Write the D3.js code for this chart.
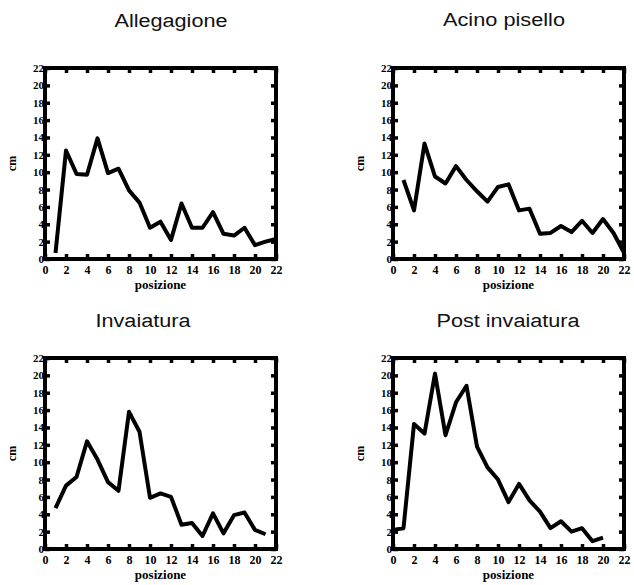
<!DOCTYPE html>
<html>
<head>
<meta charset="utf-8">
<script src="https://cdn.jsdelivr.net/npm/d3@7"></script>
<style>
  body { margin: 0; background: #fff; }
  .tick text { font-family: "Liberation Serif", serif; font-weight: bold; fill: #000; }
</style>
</head>
<body>
<div id="wrapper"></div>
<script>
// dati
const titles = ["Allegagione", "Acino pisello", "Invaiatura", "Post invaiatura"]
const xTicks = [0, 2, 4, 6, 8, 10, 12, 14, 16, 18, 20, 22]
const yTicks = [0, 2, 4, 6, 8, 10, 12, 14, 16, 18, 20, 22]

const posAllegagione = [1, 2, 3, 4, 5, 6, 7, 8, 9, 10, 11, 12, 13, 14, 15, 16, 17, 18, 19, 20, 21, 22]
const cmAllegagione = [0.7, 12.5, 9.8, 9.7, 13.9, 9.9, 10.4, 7.9, 6.5, 3.6, 4.3, 2.2, 6.4, 3.6, 3.6, 5.4, 2.9, 2.7, 3.6, 1.6, 2.0, 2.3]

const posAcino = [1, 2, 3, 4, 5, 6, 7, 8, 9, 10, 11, 12, 13, 14, 15, 16, 17, 18, 19, 20, 21, 22]
const cmAcino = [9.1, 5.6, 13.3, 9.5, 8.7, 10.7, 9.1, 7.8, 6.6, 8.3, 8.6, 5.6, 5.8, 2.9, 3.0, 3.8, 3.1, 4.4, 3.0, 4.6, 3.0, 0.7]

const posInvaiatura = [1, 2, 3, 4, 5, 6, 7, 8, 9, 10, 11, 12, 13, 14, 15, 16, 17, 18, 19, 20, 21]
const cmInvaiatura = [4.7, 7.3, 8.3, 12.4, 10.3, 7.7, 6.7, 15.8, 13.5, 5.9, 6.4, 6.0, 2.8, 3.0, 1.5, 4.1, 1.8, 3.9, 4.2, 2.2, 1.7]

const posPost = [0, 1, 2, 3, 4, 5, 6, 7, 8, 9, 10, 11, 12, 13, 14, 15, 16, 17, 18, 19, 20]
const cmPost = [2.2, 2.4, 14.4, 13.3, 20.2, 13.1, 16.9, 18.8, 11.8, 9.4, 8.0, 5.4, 7.5, 5.6, 4.3, 2.4, 3.2, 2.0, 2.4, 0.9, 1.3]

const series = [
    { x: posAllegagione, y: cmAllegagione },
    { x: posAcino, y: cmAcino },
    { x: posInvaiatura, y: cmInvaiatura },
    { x: posPost, y: cmPost },
]

// layout
let dimensions = {
    width: 634,
    height: 585,
    plotWidth: 231,
    plotHeight: 191,
}
const origins = [[45, 68], [393, 68], [45, 358], [393, 358]]
const titlePos = [[171, 27, 113], [504, 26, 122], [143, 327, 95], [508, 327, 143]]

const wrapper = d3.select("#wrapper")
    .append("svg")
    .attr("width", dimensions.width)
    .attr("height", dimensions.height)

const x = d3.scaleLinear().domain([0, 22]).range([0, dimensions.plotWidth])
const y = d3.scaleLinear().domain([0, 22]).range([dimensions.plotHeight, 0])

const line = d3.line()
    .x(d => x(d[0]))
    .y(d => y(d[1]))

series.forEach((s, i) => {
    const g = wrapper.append("g")
        .attr("transform", `translate(${origins[i][0]}, ${origins[i][1]})`)

    // titolo
    wrapper.append("text")
        .attr("x", titlePos[i][0])
        .attr("y", titlePos[i][1])
        .attr("text-anchor", "middle")
        .attr("font-family", "Liberation Sans, Arial, sans-serif")
        .attr("font-size", "18px")
        .attr("textLength", titlePos[i][2])
        .attr("lengthAdjust", "spacingAndGlyphs")
        .attr("fill", "#111")
        .text(titles[i])

    // cornice
    g.append("rect")
        .attr("width", dimensions.plotWidth)
        .attr("height", dimensions.plotHeight)
        .attr("fill", "none")
        .attr("stroke", "#000")
        .attr("stroke-width", 4)

    // linea dati
    g.append("path")
        .datum(s.x.map((v, j) => [v, s.y[j]]))
        .attr("d", line)
        .attr("fill", "none")
        .attr("stroke", "#000")
        .attr("stroke-width", 4)
        .attr("stroke-linejoin", "round")

    // assi: tacche interne su tutti i lati
    const top = g.append("g")
        .call(d3.axisTop(x).tickValues(xTicks).tickSize(-5).tickFormat(""))
    const right = g.append("g")
        .attr("transform", `translate(${dimensions.plotWidth}, 0)`)
        .call(d3.axisRight(y).tickValues(yTicks).tickSize(-5).tickFormat(""))
    const bottom = g.append("g")
        .attr("transform", `translate(0, ${dimensions.plotHeight})`)
        .call(d3.axisBottom(x).tickValues(xTicks).tickSize(-5).tickPadding(6).tickFormat(d3.format("d")))
    const left = g.append("g")
        .call(d3.axisLeft(y).tickValues(yTicks).tickSize(-5).tickPadding(1).tickFormat(d3.format("d")))

    ;[bottom, left, top, right].forEach(a => {
        a.select(".domain").remove()
        a.selectAll(".tick line").attr("stroke", "#000").attr("stroke-width", 3.5)
    })
    bottom.selectAll(".tick text").attr("font-size", "12px")
    left.selectAll(".tick text").attr("font-size", "11px")

    // etichette assi
    g.append("text")
        .attr("x", dimensions.plotWidth / 2)
        .attr("y", dimensions.plotHeight + 30)
        .attr("text-anchor", "middle")
        .attr("font-family", "Liberation Serif, serif")
        .attr("font-weight", "bold")
        .attr("font-size", "13px")
        .text("posizione")

    g.append("text")
        .attr("transform", `translate(-29, ${dimensions.plotHeight / 2}) rotate(-90)`)
        .attr("text-anchor", "middle")
        .attr("font-family", "Liberation Serif, serif")
        .attr("font-weight", "bold")
        .attr("font-size", "12px")
        .text("cm")
})
</script>
</body>
</html>
